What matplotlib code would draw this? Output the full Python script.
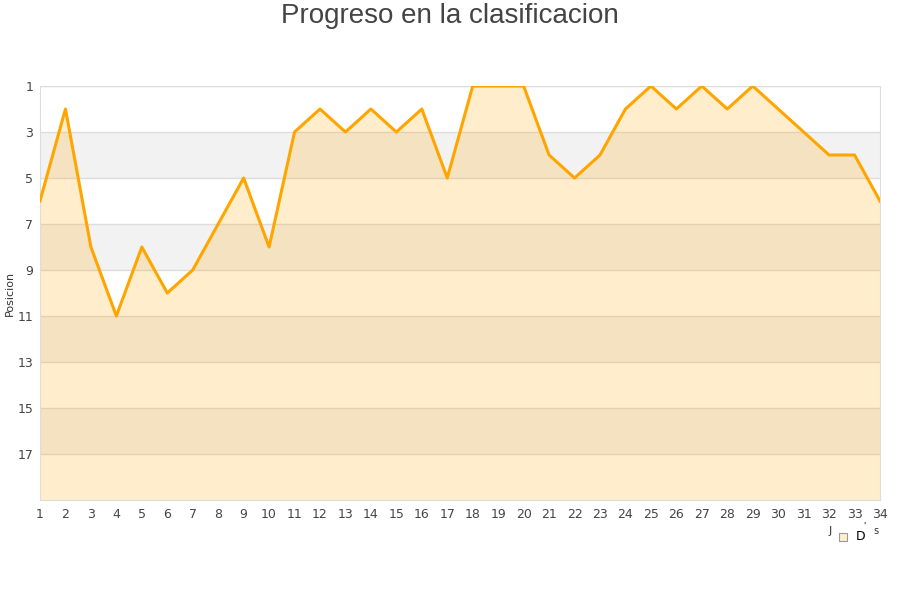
import matplotlib
matplotlib.use('Agg')
import matplotlib.pyplot as plt
from matplotlib.patches import Rectangle

jornadas = list(range(1, 35))
posicion = [6, 2, 8, 11, 8, 10, 9, 7, 5, 8, 3, 2, 3, 2, 3, 2, 5, 1, 1, 1,
            4, 5, 4, 2, 1, 2, 1, 2, 1, 2, 3, 4, 4, 6]
y_ticks = [1, 3, 5, 7, 9, 11, 13, 15, 17]
bandas = [(3, 5), (7, 9), (11, 13), (15, 17)]

fig = plt.figure(figsize=(9, 6), dpi=100)
ax = fig.add_axes([40 / 900, 100 / 600, 840 / 900, 414 / 600])

for a, b in bandas:
    ax.axhspan(a, b, color='#f2f2f2', zorder=0, lw=0)
for t in y_ticks:
    ax.axhline(t, color='#dddddd', lw=1, zorder=1)

ax.fill_between(jornadas, posicion, 19, color='#FFA500', alpha=0.2, lw=0, zorder=2)
ax.plot(jornadas, posicion, color='#FFA500', lw=2.2, zorder=3)

ax.set_xlim(1, 34)
ax.set_ylim(19, 1)
ax.set_xticks(jornadas)
ax.set_yticks(y_ticks)
ax.tick_params(length=0, labelsize=9, colors='#444444', pad=6)
ax.tick_params(axis='y', pad=5)
for s in ax.spines.values():
    s.set_color('#dddddd')

fig.text(10 / 900, 1 - 293 / 600, 'Posicion', rotation=90, fontsize=8,
         color='#333333', ha='center', va='center')
fig.text(0.5, 1 - 16 / 600, 'Progreso en la clasificacion', fontsize=20,
         family='Liberation Sans', color='#444444', ha='center', va='center')

# leyenda
fig.text(830 / 900, 1 - 531 / 600, 'J', fontsize=8, color='#333333', ha='center', va='center')
fig.patches.append(Rectangle((839 / 900, 1 - 541 / 600), 8 / 900, 8 / 600,
                             transform=fig.transFigure, facecolor='#FFEDCC',
                             edgecolor='#999999', lw=0.8))
fig.text(861 / 900, 1 - 536 / 600, 'D', fontsize=9, color='#000000', ha='center', va='center')
fig.text(864 / 900, 1 - 526 / 600, "'", fontsize=6, color='#000000', ha='center', va='center')
fig.text(876 / 900, 1 - 531 / 600, 's', fontsize=7, color='#333333', ha='center', va='center')

fig.savefig('out.png', dpi=100)
